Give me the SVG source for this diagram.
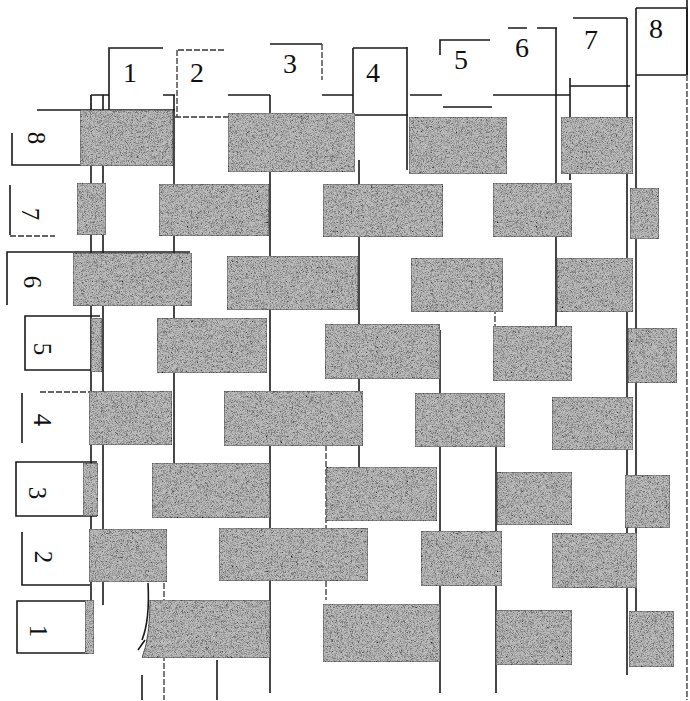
<svg xmlns="http://www.w3.org/2000/svg" width="690" height="701" viewBox="0 0 690 701">
<defs>
<filter id="grain" x="0" y="0" width="100%" height="100%">
<feTurbulence type="fractalNoise" baseFrequency="2.2" numOctaves="1" seed="7" result="n"/>
<feColorMatrix in="n" type="matrix" values="0 0 0 0 0  0 0 0 0 0  0 0 0 0 0  2.4 0 0 0 -1.0" result="a"/>
<feComposite in="a" in2="SourceGraphic" operator="in" result="specks"/>
<feMerge><feMergeNode in="SourceGraphic"/><feMergeNode in="specks"/></feMerge>
</filter>
<style>
.s{fill:#bdbdbd;stroke:#444;stroke-width:0.8;filter:url(#grain)}
.l{stroke:#1a1a1a;stroke-width:1.6;fill:none}
.d{stroke:#333;stroke-width:1.3;fill:none;stroke-dasharray:6 2}
.t{font-family:"Liberation Serif","Times New Roman",serif;font-size:28px;fill:#111;text-anchor:middle}
.r{font-family:"Liberation Serif","Times New Roman",serif;font-size:25px;fill:#111;text-anchor:middle;dominant-baseline:central}
</style>
</defs>
<rect width="690" height="701" fill="#ffffff"/>

<g id="warp-lines">
<path class="l" d="M91 95V605M103 95V605M174 95V470M270 95V693M353 48V170M359 160V470M407 47V170M440 330V693M496 440V693M556 28V330M570 78V180M627 18V675M636 8V612M687 0V75"/>
<path class="d" d="M326 445V600M687 75V700M164 583V700M495 300V330M177 50V117"/>
<path class="l" d="M148 583Q150 620 142 640M142 675V700M217 660V700M145 640L138 650"/>
</g>

<g id="top-lines">
<path class="l" d="M91 95H109M163 95H175M228 95H270M322 95H353M410 95H442M493 95H570M443 107H492M570 86H630M37 110H175M355 115H408M636 75H686"/>
<path class="d" d="M175 117H228M91 95V110"/>
</g>

<g id="col-1"><path class="l" d="M109 110V48H163"/><text class="t" x="130" y="82">1</text></g>
<g id="col-2"><path class="d" d="M178 50H225"/><text class="t" x="197" y="82">2</text></g>
<g id="col-3"><path class="l" d="M270 44H322"/><path class="d" d="M322 44V80"/><text class="t" x="290" y="73">3</text></g>
<g id="col-4"><path class="l" d="M353 48H407"/><text class="t" x="373" y="82">4</text></g>
<g id="col-5"><path class="l" d="M440 55V40H490"/><text class="t" x="461" y="69">5</text></g>
<g id="col-6"><path class="l" d="M508 28H527M537 28H557"/><text class="t" x="522" y="57">6</text></g>
<g id="col-7"><path class="l" d="M573 18H627"/><text class="t" x="591" y="49">7</text></g>
<g id="col-8"><path class="l" d="M636 8H687V75"/><text class="t" x="656" y="38">8</text></g>

<g id="row-8"><path class="l" d="M12 133V165H80"/><text class="r" transform="translate(36 138) rotate(90)">8</text></g>
<g id="row-7"><path class="l" d="M10 185V235"/><path class="d" d="M10 236H55"/><text class="r" transform="translate(30 214) rotate(90)">7</text></g>
<g id="row-6"><path class="l" d="M7 305V252H190"/><text class="r" transform="translate(32 282) rotate(90)">6</text></g>
<g id="row-5"><path class="l" d="M100 316H25V370H95"/><text class="r" transform="translate(42 349) rotate(90)">5</text></g>
<g id="row-4"><path class="l" d="M22 393V443"/><path class="d" d="M40 392H90"/><text class="r" transform="translate(42 420) rotate(90)">4</text></g>
<g id="row-3"><path class="l" d="M97 462H16V516H97"/><text class="r" transform="translate(37 493) rotate(90)">3</text></g>
<g id="row-2"><path class="l" d="M22 532V585H90"/><text class="r" transform="translate(43 557) rotate(90)">2</text></g>
<g id="row-1"><path class="l" d="M85 601H17V653H85"/><text class="r" transform="translate(38 631) rotate(90)">1</text></g>

<g id="weft-8">
<rect class="s" x="80" y="110" width="93" height="56"/>
<rect class="s" x="228" y="113" width="127" height="59"/>
<rect class="s" x="409" y="117" width="98" height="57"/>
<rect class="s" x="561" y="117" width="72" height="57"/>
</g>
<g id="weft-7">
<rect class="s" x="77" y="183" width="29" height="52"/>
<rect class="s" x="159" y="184" width="110" height="52"/>
<rect class="s" x="323" y="184" width="120" height="53"/>
<rect class="s" x="493" y="183" width="79" height="54"/>
<rect class="s" x="630" y="188" width="29" height="51"/>
</g>
<g id="weft-6">
<rect class="s" x="73" y="253" width="119" height="53"/>
<rect class="s" x="227" y="256" width="131" height="54"/>
<rect class="s" x="411" y="258" width="92" height="54"/>
<rect class="s" x="557" y="258" width="76" height="54"/>
</g>
<g id="weft-5">
<rect class="s" x="91" y="318" width="11" height="54"/>
<rect class="s" x="157" y="318" width="110" height="55"/>
<rect class="s" x="325" y="324" width="115" height="55"/>
<rect class="s" x="493" y="326" width="79" height="55"/>
<rect class="s" x="628" y="328" width="49" height="55"/>
</g>
<g id="weft-4">
<rect class="s" x="89" y="391" width="83" height="54"/>
<rect class="s" x="224" y="391" width="139" height="55"/>
<rect class="s" x="415" y="393" width="90" height="54"/>
<rect class="s" x="552" y="397" width="81" height="53"/>
</g>
<g id="weft-3">
<rect class="s" x="83" y="463" width="15" height="53"/>
<rect class="s" x="152" y="463" width="118" height="55"/>
<rect class="s" x="326" y="467" width="111" height="54"/>
<rect class="s" x="497" y="472" width="75" height="53"/>
<rect class="s" x="625" y="475" width="45" height="53"/>
</g>
<g id="weft-2">
<rect class="s" x="89" y="529" width="78" height="53"/>
<rect class="s" x="219" y="528" width="149" height="53"/>
<rect class="s" x="421" y="531" width="81" height="55"/>
<rect class="s" x="552" y="533" width="85" height="55"/>
</g>
<g id="weft-1">
<rect class="s" x="85" y="600" width="9" height="54"/>
<path class="s" d="M150 600H270V658H142L146 645Q150 625 150 600Z"/>
<rect class="s" x="323" y="604" width="117" height="58"/>
<rect class="s" x="496" y="610" width="76" height="55"/>
<rect class="s" x="629" y="611" width="45" height="56"/>
</g>
</svg>
